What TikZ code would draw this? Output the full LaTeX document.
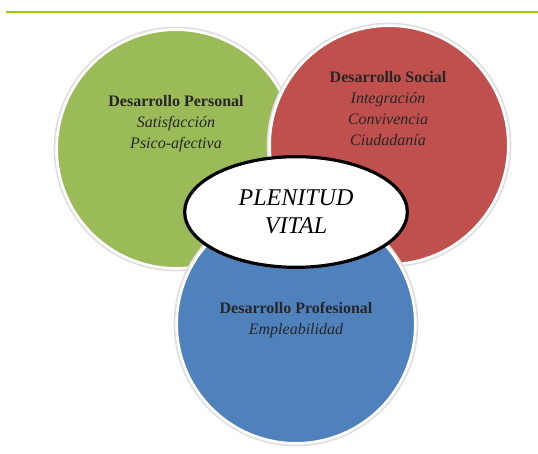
\documentclass[tikz,border=0pt]{standalone}
\usepackage{fontspec}
\setmainfont{Liberation Serif}
\usetikzlibrary{shapes.geometric}
\definecolor{verdeP}{RGB}{155,187,89}
\definecolor{rojoS}{RGB}{192,80,77}
\definecolor{azulF}{RGB}{79,129,189}
\definecolor{lineaV}{RGB}{153,204,0}
\tikzset{
  circulo/.style={circle,inner sep=0pt,minimum size=179pt,draw=white,line width=2pt,
    preaction={draw=black!13,line width=4.5pt}},
  texto/.style={anchor=north,inner sep=0pt,align=center,text=black!85,
    font=\fontsize{12}{15.8}\selectfont},
  plenitud/.style={ellipse,draw=black,line width=2.4pt,fill=white,inner sep=0pt,
    minimum width=167pt,minimum height=83pt,align=center,
    font=\fontsize{18}{21}\selectfont\itshape},
}

\begin{document}
\begin{tikzpicture}[x=0.75pt,y=0.75pt,yscale=-1,xscale=1]
            \useasboundingbox (0,0) rectangle (538,453);
            \draw [color=lineaV, line width=1.5pt] (6,12) -- (538,12);
            % circulos
            \node [circulo, fill=verdeP] (personal) at (176,149) {};
            \node [circulo, fill=rojoS] (social) at (389,145) {};
            \node [circulo, fill=azulF] (profesional) at (296,324) {};
            % textos
            \node [texto] (tpersonal) at (176,95) {\textbf{Desarrollo Personal}\\ \textit{Satisfacción}\\ \textit{Psico-afectiva}};
            \node [texto] (tsocial) at (388,71) {\textbf{Desarrollo Social}\\ \textit{Integración}\\ \textit{Convivencia}\\ \textit{Ciudadanía}};
            \node [texto] (tprofesional) at (296,302) {\textbf{Desarrollo Profesional}\\ \textit{Empleabilidad}};
            % centro
            \node [plenitud] (vital) at (296,212) {PLENITUD\\ VITAL};
        \end{tikzpicture}
\end{document}
